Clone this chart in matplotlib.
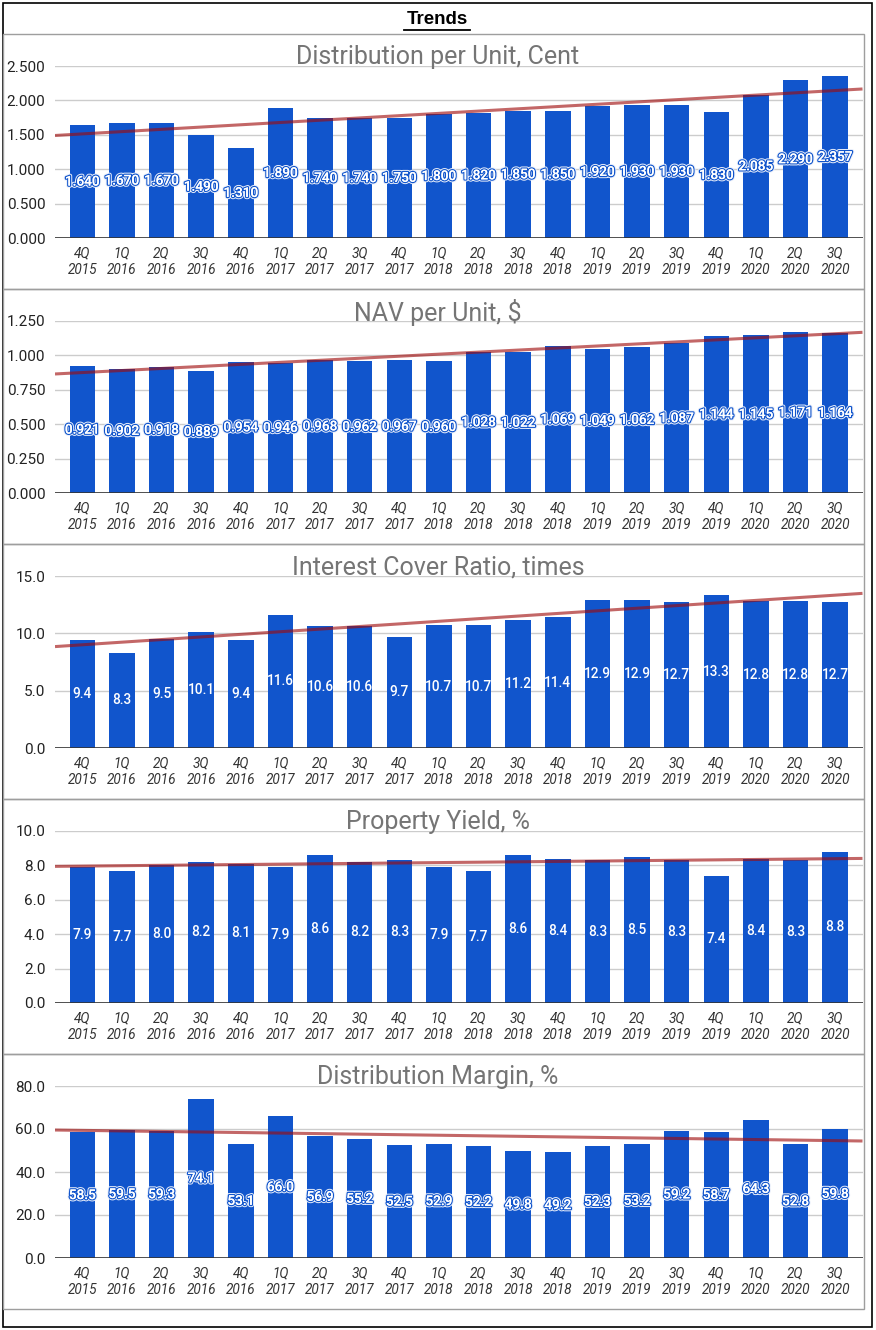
import matplotlib.pyplot as plt
import matplotlib.patheffects as pe
from matplotlib.patches import Rectangle
import numpy as np

plt.rcParams['font.family'] = ['Roboto', 'DejaVu Sans']

quarters = ["4Q\n2015", "1Q\n2016", "2Q\n2016", "3Q\n2016", "4Q\n2016",
            "1Q\n2017", "2Q\n2017", "3Q\n2017", "4Q\n2017", "1Q\n2018",
            "2Q\n2018", "3Q\n2018", "4Q\n2018", "1Q\n2019", "2Q\n2019",
            "3Q\n2019", "4Q\n2019", "1Q\n2020", "2Q\n2020", "3Q\n2020"]

dpu = [1.640, 1.670, 1.670, 1.490, 1.310, 1.890, 1.740, 1.740, 1.750, 1.800,
       1.820, 1.850, 1.850, 1.920, 1.930, 1.930, 1.830, 2.085, 2.290, 2.357]
nav = [0.921, 0.902, 0.918, 0.889, 0.954, 0.946, 0.968, 0.962, 0.967, 0.960,
       1.028, 1.022, 1.069, 1.049, 1.062, 1.087, 1.144, 1.145, 1.171, 1.164]
icr = [9.4, 8.3, 9.5, 10.1, 9.4, 11.6, 10.6, 10.6, 9.7, 10.7,
       10.7, 11.2, 11.4, 12.9, 12.9, 12.7, 13.3, 12.8, 12.8, 12.7]
prop_yield = [7.9, 7.7, 8.0, 8.2, 8.1, 7.9, 8.6, 8.2, 8.3, 7.9,
              7.7, 8.6, 8.4, 8.3, 8.5, 8.3, 7.4, 8.4, 8.3, 8.8]
dist_margin = [58.5, 59.5, 59.3, 74.1, 53.1, 66.0, 56.9, 55.2, 52.5, 52.9,
               52.2, 49.8, 49.2, 52.3, 53.2, 59.2, 58.7, 64.3, 52.8, 59.8]

titles = ["Distribution per Unit, Cent", "NAV per Unit, $",
          "Interest Cover Ratio, times", "Property Yield, %",
          "Distribution Margin, %"]
series = [dpu, nav, icr, prop_yield, dist_margin]
yticks = [np.arange(0, 2.501, 0.5), np.arange(0, 1.2501, 0.25),
          np.arange(0, 15.01, 5), np.arange(0, 10.01, 2), np.arange(0, 80.01, 20)]
fmts = ["{:.3f}", "{:.3f}", "{:.1f}", "{:.1f}", "{:.1f}"]
boxed = [True, True, False, False, True]

BAR = '#1155cc'
TREND = '#9e0a0a'

W, H = 876, 1330
fig = plt.figure(figsize=(W / 100, H / 100), dpi=100)

def fx(px):
    return px / W

def fy(py):
    return 1 - py / H

# outer border + title
fig.patches.append(Rectangle((fx(3), fy(1327)), fx(869), 1324 / H, transform=fig.transFigure,
                             fill=False, ec='black', lw=1.2))
fig.text(fx(437), fy(19.5), "Trends", ha='center', va='center', fontsize=13.5,
         fontweight='bold', family=['Liberation Sans', 'DejaVu Sans'], color='black')
fig.lines.append(plt.Line2D([fx(404), fx(470)], [fy(30), fy(30)], transform=fig.transFigure,
                            color='black', lw=1.3))

x = np.arange(len(quarters))
panel_h = 255
for i, (vals, title) in enumerate(zip(series, titles)):
    top = 34 + i * panel_h
    fig.patches.append(Rectangle((fx(3), fy(top + panel_h)), fx(861), panel_h / H,
                                 transform=fig.transFigure, fill=False, ec='#9e9e9e', lw=1))
    ax = fig.add_axes([fx(55), fy(top + 204), fx(807.5), 172 / H])
    ax.bar(x, vals, width=0.645, color=BAR, zorder=2)
    ax.set_xlim(-0.69, len(x) - 1 + 0.69)
    ax.set_ylim(0, yticks[i][-1])
    ax.set_yticks(yticks[i])
    ax.set_yticklabels([fmts[i].format(v) for v in yticks[i]], fontsize=11, color='#222222')
    ax.set_xticks(x)
    ax.set_xticklabels(quarters, fontsize=9.8, style='italic', color='#333333', linespacing=1.2)
    ax.tick_params(axis='both', length=0)
    ax.tick_params(axis='y', pad=7)
    ax.tick_params(axis='x', pad=6)
    ax.grid(axis='y', color='#cccccc', lw=1, zorder=0)
    for s in ax.spines.values():
        s.set_visible(False)
    ax.axhline(0, color='#333333', lw=1.2, zorder=3)

    # linear trendline over the full axis width
    k, b = np.polyfit(x, vals, 1)
    xl = np.array(ax.get_xlim())
    ax.plot(xl, k * xl + b, color=TREND, lw=2.2, alpha=0.62, zorder=4, solid_capstyle='butt')

    for xi, v in zip(x, vals):
        txt = ax.text(xi, v / 2, fmts[i].format(v), ha='center', va='center',
                      fontsize=9.8, color='white', zorder=5, fontweight='medium')
        if boxed[i]:
            txt.set_path_effects([pe.withStroke(linewidth=3.2, foreground='#e8eefa'),
                                  pe.withStroke(linewidth=1.8, foreground=BAR),
                                  pe.Normal()])

    fig.text(fx(438), fy(top + 23), title, ha='center', va='center', fontsize=18,
             color='#757575')

fig.savefig("out.png", dpi=100)
